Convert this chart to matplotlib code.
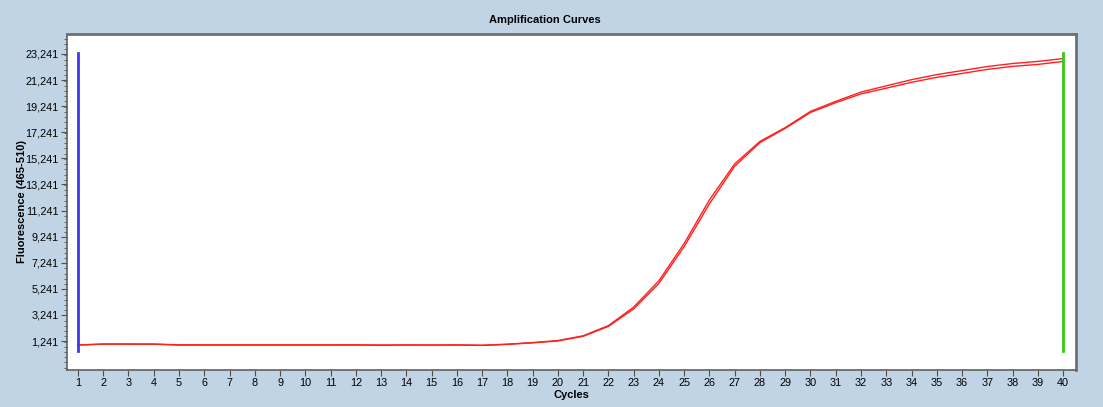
import numpy as np
import matplotlib.pyplot as plt
from matplotlib.ticker import FuncFormatter, MultipleLocator

# amplification data, two replicates
cycles = list(range(1, 41))
fluor_a = [935, 1010, 1010, 1005, 945, 940, 940, 940, 940, 940, 940, 945, 930, 940, 925, 945,
           915, 995, 1120, 1275, 1640, 2420, 3840, 5860, 8720, 12060, 14820, 16540, 17600, 18840,
           19610, 20320, 20800, 21270, 21660, 21970, 22280, 22510, 22670, 22890]
fluor_b = [930, 1000, 1000, 995, 935, 935, 935, 935, 935, 935, 935, 935, 915, 930, 935, 925,
           905, 985, 1100, 1245, 1600, 2360, 3700, 5660, 8480, 11760, 14640, 16450, 17540, 18760,
           19510, 20180, 20620, 21070, 21450, 21750, 22060, 22290, 22440, 22670]

yticks = [1241 + 2000 * i for i in range(12)]
xticks = cycles

bg = '#C1D4E5'
fig = plt.figure(figsize=(11.03, 4.07), dpi=100, facecolor=bg)
ax = fig.add_axes([0.0607, 0.0909, 0.9148, 0.8256])
ax.set_facecolor('white')

ax.plot(cycles, fluor_a, color='#FF2020', lw=1.0)
ax.plot(cycles, fluor_b, color='#FF2020', lw=1.0)

# threshold markers at first and last cycle
ax.plot([1, 1], [475, 23300], color='#3A3AF0', lw=2)
ax.plot([40, 40], [475, 23300], color='#33CC11', lw=2)

ax.set_xlim(0.565, 40.51)
ax.set_ylim(-982, 24774)
ax.set_xticks(xticks)
ax.set_yticks(yticks)
ax.yaxis.set_minor_locator(MultipleLocator(400))
ax.yaxis.set_major_formatter(FuncFormatter(lambda v, p: f'{int(round(v)):,}'))

for lab in ax.get_xticklabels() + ax.get_yticklabels():
    lab.set_fontfamily('Liberation Sans')
    lab.set_fontsize(7.8)
ax.tick_params(axis='both', which='major', length=4, width=0.8, color='#505050', pad=2)
ax.tick_params(axis='y', which='minor', length=2, width=0.6, color='#505050')

for side in ['left', 'bottom']:
    ax.spines[side].set_color('#606060')
    ax.spines[side].set_linewidth(1.2)
for side in ['top', 'right']:
    ax.spines[side].set_color('#707070')
    ax.spines[side].set_linewidth(2)

ax.set_xlabel('Cycles', fontfamily='Liberation Sans', fontsize=8, fontweight='bold', labelpad=1)
ax.set_ylabel('Fluorescence (465-510)', fontfamily='Liberation Sans', fontsize=8,
              fontweight='bold', labelpad=-1)
fig.text(0.494, 0.951, 'Amplification Curves', ha='center', va='center',
         fontfamily='Liberation Sans', fontsize=8, fontweight='bold')

fig.savefig('out.png', dpi=100, facecolor=bg)
